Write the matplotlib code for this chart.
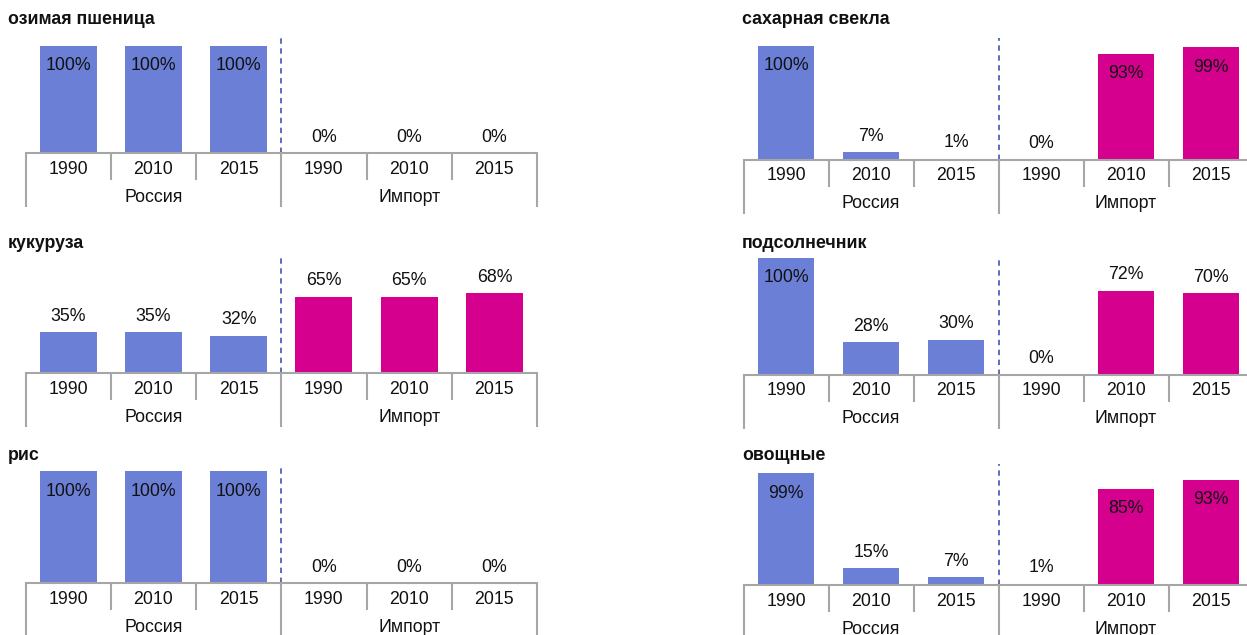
import matplotlib
matplotlib.use("Agg")
import matplotlib.pyplot as plt

plt.rcParams['font.family'] = ['Liberation Sans', 'DejaVu Sans']

# Доли собственного производства и импорта по культурам
years = ["1990", "2010", "2015"]
groups = ["Россия", "Импорт"]

crops = ["озимая пшеница", "сахарная свекла", "кукуруза",
         "подсолнечник", "рис", "овощные"]
russia = [
    [100, 100, 100],
    [100, 7, 1],
    [35, 35, 32],
    [100, 28, 30],
    [100, 100, 100],
    [99, 15, 7],
]
imports = [
    [0, 0, 0],
    [0, 93, 99],
    [65, 65, 68],
    [0, 72, 70],
    [0, 0, 0],
    [1, 85, 93],
]

BLUE = "#6B7FD7"
MAGENTA = "#D6008F"
GRID = "#A6A6A6"
DASH = "#4F60B8"
TEXT = "#111111"
FS = 12.8

W, H, DPI = 1247, 635, 100

# pixel layout of each panel: left, right, baseline, px per 100%, top
cols = [(25.5, 537.0, 8), (743.5, 1253.5, 742)]
rows = [
    [(153, 107, 37), (160, 114, 38)],
    [(373, 117, 258), (375, 117, 258)],
    [(583, 112, 464), (585, 113, 464)],
]
title_y = [20, 243, 455]

fig = plt.figure(figsize=(W / DPI, H / DPI), dpi=DPI)

for i, crop in enumerate(crops):
    r, c = divmod(i, 2)
    x0, x1, tx = cols[c]
    base, scale, top = rows[r][c]
    h_px = base - top
    ax = fig.add_axes([x0 / W, 1 - base / H, (x1 - x0) / W, h_px / H])
    ax.set_xlim(-0.5, 5.5)
    ax.set_ylim(0, h_px / scale * 100)
    ax.axis("off")

    values = russia[i] + imports[i]
    colors = [BLUE] * 3 + [MAGENTA] * 3
    pos = range(6)
    ax.bar(pos, values, width=0.67, color=colors, zorder=2)

    # value labels: inside the tall bars, above the short ones
    for x, v in zip(pos, values):
        dy = -20 if v >= 80 else 16
        ax.annotate(f"{v}%", (x, v), xytext=(0, dy), textcoords="offset pixels",
                    ha="center", va="center", fontsize=FS, color=TEXT, zorder=3)

    # divider between own production and imports
    ax.axvline(2.5, color=DASH, lw=1.3, ls=(0, (3, 2.5)), zorder=1)

    # category axis with two levels of separators
    ax.axhline(0, color=GRID, lw=1.5, zorder=4, clip_on=False)
    tr = ax.get_xaxis_transform()
    for b in [-0.5, 0.5, 1.5, 2.5, 3.5, 4.5, 5.5]:
        depth = 54 if b in (-0.5, 2.5, 5.5) else 27
        ax.plot([b, b], [0, -depth / h_px], transform=tr, color=GRID, lw=1.5,
                clip_on=False, solid_capstyle="butt")
    for x, yr in zip(pos, years * 2):
        ax.text(x, -16 / h_px, yr, transform=tr, ha="center", va="center",
                fontsize=FS, color=TEXT)
    for x, g in zip([1, 4], groups):
        ax.text(x, -44 / h_px, g, transform=tr, ha="center", va="center",
                fontsize=FS, color=TEXT)

    fig.text(tx / W, 1 - title_y[r] / H, crop, ha="left", va="center",
             fontsize=12.8, fontweight="bold", color=TEXT)

fig.savefig("out.png", dpi=DPI)
